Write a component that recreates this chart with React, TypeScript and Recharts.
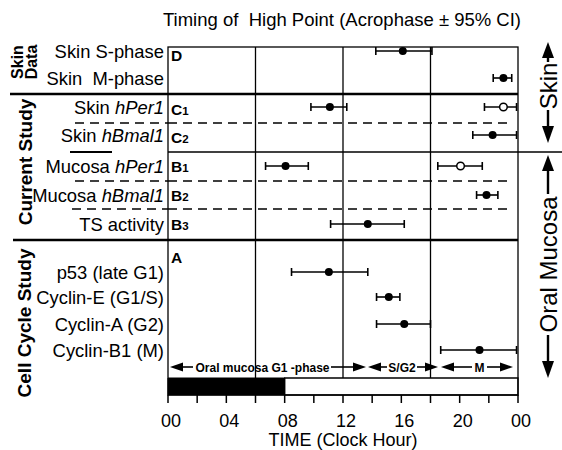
import React from "react"
import {
  ScatterChart,
  Scatter,
  XAxis,
  YAxis,
  ErrorBar,
  ReferenceLine,
  ReferenceArea,
} from "recharts"

// rows, top to bottom
const rowLabels = [
  "Skin S-phase",
  "Skin  M-phase",
  "Skin hPer1",
  "Skin hBmal1",
  "Mucosa hPer1",
  "Mucosa hBmal1",
  "TS activity",
  "p53 (late G1)",
  "Cyclin-E (G1/S)",
  "Cyclin-A (G2)",
  "Cyclin-B1 (M)",
]
// acrophase (clock hour) and 95% CI
const peakHour = [16.1, 23.0, 11.1, 22.26, 8.06, 21.84, 13.7, 11.03, 15.14, 16.2, 21.36]
const ciLow = [14.25, 22.3, 9.8, 20.9, 6.69, 21.16, 11.15, 8.47, 14.3, 14.3, 18.7]
const ciHigh = [18.1, 23.57, 12.26, 23.9, 9.62, 22.62, 16.2, 13.7, 15.9, 18.0, 23.9]

// second (open circle) peaks
const secondLabels = ["Skin hPer1", "Mucosa hPer1"]
const secondPeak = [23.0, 20.06]
const secondLow = [21.7, 18.5]
const secondHigh = [23.9, 21.55]

const xTicks = [0, 2, 4, 6, 8, 10, 12, 14, 16, 18, 20, 22, 24]
const phaseLines = [6, 12, 18]
const g1Black = [0, 8]

// layout (vertical offset inside the plot, px from its top)
const ROW_POS = [4, 31, 60, 88, 119, 148, 177, 225, 250, 277, 303]
const PLOT_H = 348
const BAR_TOP = 331
const FONT = '"Liberation Sans", Arial, Helvetica, sans-serif'

const posOf = (label: string) => ROW_POS[rowLabels.indexOf(label)]

const mainData = rowLabels.map((label, i) => ({
  label,
  hour: peakHour[i],
  pos: ROW_POS[i],
  err: [peakHour[i] - ciLow[i], ciHigh[i] - peakHour[i]],
}))
const openData = secondLabels.map((label, i) => ({
  label,
  hour: secondPeak[i],
  pos: posOf(label),
  err: [secondPeak[i] - secondLow[i], secondHigh[i] - secondPeak[i]],
}))

function RowTick(props: any) {
  const { x, y, payload } = props
  const label = rowLabels[ROW_POS.indexOf(payload.value)] || ""
  const words = label.split(" ")
  return (
    <text
      x={x}
      y={y}
      dy="0.36em"
      textAnchor="end"
      fontSize={18.4}
      fontFamily={FONT}
      fill="#000"
      style={{ whiteSpace: "pre" }}
    >
      {words.map((w, k) => (
        <tspan key={k} fontStyle={/^h[A-Z]/.test(w) ? "italic" : "normal"}>
          {(k > 0 ? " " : "") + w}
        </tspan>
      ))}
    </text>
  )
}

const fmtHour = (h: number) => (h % 4 === 0 ? String(h % 24).padStart(2, "0") : "")

function HArrow({ l, r, y, t0, t1, text, mid }: any) {
  return (
    <g>
      <polygon points={`${l},${y} ${l + 13},${y - 4.5} ${l + 13},${y + 4.5}`} fill="#000" />
      <line x1={l + 12} x2={t0} y1={y} y2={y} stroke="#000" strokeWidth={1.6} />
      <text x={mid} y={y + 4.5} textAnchor="middle" fontSize={12} fontWeight="bold" fontFamily={FONT}>
        {text}
      </text>
      <line x1={t1} x2={r - 12} y1={y} y2={y} stroke="#000" strokeWidth={1.6} />
      <polygon points={`${r},${y} ${r - 13},${y - 4.5} ${r - 13},${y + 4.5}`} fill="#000" />
    </g>
  )
}

function VArrow({ x, top, bot, t0, t1, text, mid }: any) {
  return (
    <g>
      <polygon points={`${x},${top} ${x - 6},${top + 16} ${x + 6},${top + 16}`} fill="#000" />
      <line x1={x} x2={x} y1={top + 15} y2={t0} stroke="#000" strokeWidth={2.4} />
      <text
        x={x + 8.5}
        y={mid}
        textAnchor="middle"
        fontSize={24}
        fontFamily={FONT}
        transform={`rotate(-90 ${x + 8.5} ${mid})`}
      >
        {text}
      </text>
      <line x1={x} x2={x} y1={t1} y2={bot - 15} stroke="#000" strokeWidth={2.4} />
      <polygon points={`${x},${bot} ${x - 6},${bot - 17} ${x + 6},${bot - 17}`} fill="#000" />
    </g>
  )
}

function Overlay() {
  const vText = (s: string, x: number, y: number, size: number) => (
    <text
      x={x}
      y={y}
      textAnchor="middle"
      fontSize={size}
      fontWeight="bold"
      fontFamily={FONT}
      transform={`rotate(-90 ${x} ${y})`}
    >
      {s}
    </text>
  )
  const panel = (main: string, sub: string, y: number) => (
    <text x={171} y={y} fontSize={15.5} fontWeight="bold" fontFamily={FONT}>
      {main}
      {sub && <tspan fontSize={11.5}>{sub}</tspan>}
    </text>
  )
  return (
    <svg
      width={562}
      height={450}
      style={{ position: "absolute", left: 0, top: 0, pointerEvents: "none" }}
    >
      <text x={342} y={26} textAnchor="middle" fontSize={18.5} fontFamily={FONT} style={{ whiteSpace: "pre" }}>
        Timing of  High Point (Acrophase ± 95% CI)
      </text>

      {/* plot frame */}
      <rect x={168} y={47} width={350} height={348} fill="none" stroke="#000" strokeWidth={1.3} />

      {/* left extensions of the separators */}
      <line x1={10} x2={168} y1={94} y2={94} stroke="#000" strokeWidth={2.5} />
      <line x1={13} x2={168} y1={240} y2={240} stroke="#000" strokeWidth={2.5} />
      <line x1={70} x2={112} y1={152} y2={152} stroke="#000" strokeWidth={2} />
      <line x1={75} x2={168} y1={123} y2={123} stroke="#000" strokeWidth={1.5} strokeDasharray="9 6" />
      <line x1={75} x2={168} y1={181} y2={181} stroke="#000" strokeWidth={1.5} strokeDasharray="9 6" />
      <line x1={72} x2={168} y1={209} y2={209} stroke="#000" strokeWidth={1.5} strokeDasharray="9 6" />
      <line x1={518} x2={562} y1={152} y2={152} stroke="#000" strokeWidth={1.3} />

      {/* group labels */}
      {vText("Skin", 23, 62, 16)}
      {vText("Data", 37, 62, 16)}
      {vText("Current Study", 32, 162, 19)}
      {vText("Cell Cycle Study", 31, 323, 19)}

      {/* panel letters */}
      {panel("D", "", 61)}
      {panel("C", "1", 115)}
      {panel("C", "2", 143)}
      {panel("B", "1", 172)}
      {panel("B", "2", 201)}
      {panel("B", "3", 230)}
      {panel("A", "", 263)}

      {/* phase annotations */}
      <HArrow l={170} r={366} y={367} t0={193} t1={331} mid={262.5} text="Oral mucosa G1 -phase" />
      <HArrow l={368} r={438} y={367} t0={387} t1={417} mid={402} text="S/G2" />
      <HArrow l={441} r={513} y={367} t0={472} t1={487} mid={479.5} text="M" />

      {/* tissue arrows */}
      <VArrow x={548} top={42} bot={143} t0={62} t1={110} mid={86} text="Skin" />
      <VArrow x={548} top={155} bot={378} t0={194} t1={335} mid={264.5} text="Oral Mucosa" />
    </svg>
  )
}

export default function App() {
  return (
    <div style={{ position: "absolute", left: 0, top: 0, width: 562, height: 450, background: "#fff" }}>
      <ScatterChart width={562} height={450} margin={{ top: 47, right: 44, bottom: 0, left: 0 }}>
        <XAxis
          type="number"
          dataKey="hour"
          domain={[0, 24]}
          ticks={xTicks}
          interval={0}
          tickFormatter={fmtHour}
          axisLine={false}
          tickSize={8}
          tickMargin={11}
          tickLine={{ stroke: "#000", strokeWidth: 1.5 }}
          tick={{ fill: "#000", fontSize: 18, fontFamily: FONT, dx: 3 }}
          height={55}
          label={{
            value: "TIME (Clock Hour)",
            position: "insideBottom",
            offset: 4,
            fill: "#000",
            fontSize: 18,
            fontFamily: FONT,
          }}
        />
        <YAxis
          type="number"
          dataKey="pos"
          domain={[0, PLOT_H]}
          reversed
          ticks={ROW_POS}
          interval={0}
          width={168}
          axisLine={false}
          tickLine={false}
          tickSize={0}
          tickMargin={4}
          tick={<RowTick />}
        />

        {/* separators */}
        <ReferenceLine segment={[{ x: 0, y: 47 }, { x: 24, y: 47 }]} stroke="#000" strokeWidth={2.5} />
        <ReferenceLine segment={[{ x: 0, y: 193 }, { x: 24, y: 193 }]} stroke="#000" strokeWidth={2.5} />
        <ReferenceLine segment={[{ x: 0, y: 105 }, { x: 24, y: 105 }]} stroke="#000" strokeWidth={1.3} />
        {[76, 134, 162].map((p) => (
          <ReferenceLine
            key={p}
            segment={[{ x: 0, y: p }, { x: 23.45, y: p }]}
            stroke="#000"
            strokeWidth={1.5}
            strokeDasharray="9 6"
          />
        ))}
        {phaseLines.map((h) => (
          <ReferenceLine key={h} segment={[{ x: h, y: 0 }, { x: h, y: BAR_TOP }]} stroke="#000" strokeWidth={1.3} />
        ))}

        {/* dark / light bar */}
        <ReferenceArea x1={g1Black[1]} x2={24} y1={BAR_TOP} y2={PLOT_H} fill="#fff" fillOpacity={1} stroke="#000" strokeWidth={1.3} />
        <ReferenceArea x1={g1Black[0]} x2={g1Black[1]} y1={BAR_TOP} y2={PLOT_H} fill="#000" fillOpacity={1} stroke="#000" />

        <Scatter
          data={mainData}
          isAnimationActive={false}
          shape={(p: any) => <circle cx={p.cx} cy={p.cy} r={4} fill="#000" />}
        >
          <ErrorBar dataKey="err" direction="x" width={4} stroke="#000" strokeWidth={1.6} isAnimationActive={false} />
        </Scatter>
        <Scatter
          data={openData}
          isAnimationActive={false}
          shape={(p: any) => <circle cx={p.cx} cy={p.cy} r={3.8} fill="#fff" stroke="#000" strokeWidth={1.5} />}
        >
          <ErrorBar dataKey="err" direction="x" width={4} stroke="#000" strokeWidth={1.6} isAnimationActive={false} />
        </Scatter>
      </ScatterChart>
      <Overlay />
    </div>
  )
}
